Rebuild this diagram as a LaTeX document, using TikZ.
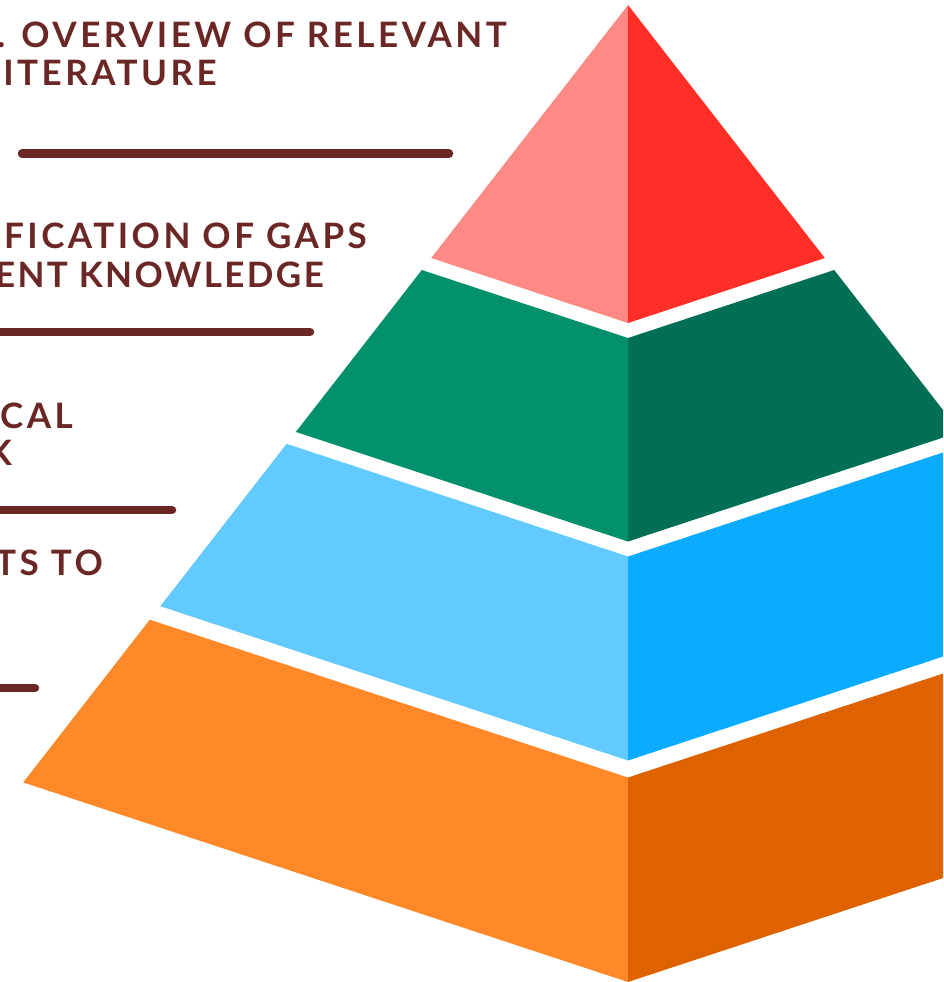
\documentclass[tikz,border=0pt]{standalone}
\usepackage{fontspec}
\newfontfamily\labelfont[LetterSpace=10]{Lato Bold}
\newfontfamily\labelfontnarrow[LetterSpace=6.8]{Lato Bold}
\definecolor{txt}{HTML}{6B2626}
\definecolor{redL}{HTML}{FF8A85}
\definecolor{redR}{HTML}{FF2E26}
\definecolor{greenL}{HTML}{02916A}
\definecolor{greenR}{HTML}{006F54}
\definecolor{blueL}{HTML}{62CAFF}
\definecolor{blueR}{HTML}{0BACFF}
\definecolor{orangeL}{HTML}{FF8829}
\definecolor{orangeR}{HTML}{DE6200}
\tikzset{
  lbl/.style={anchor=base east, inner sep=0pt, text=txt, font=\labelfont\fontsize{35}{35}\selectfont},
  lblnarrow/.style={lbl, font=\labelfontnarrow\fontsize{35}{35}\selectfont},
  rule/.style={draw=txt, line width=8.5pt, line cap=round}
}
\begin{document}
\begin{tikzpicture}[x=1pt,y=-1pt]
\useasboundingbox (0,0) rectangle (943,982);
\clip (0,0) rectangle (943,982);
\fill[white] (0,0) rectangle (943,982);
% red top
\fill[redL] (628,5) -- (431.2,258) -- (628,323) -- cycle;
\fill[redR] (628,5) -- (628,323) -- (824.8,258) -- cycle;
% green
\fill[greenL] (421.8,270) -- (628,338) -- (628,541.5) -- (295.9,431.9) -- cycle;
\fill[greenR] (628,338) -- (834.2,270) -- (960.1,431.9) -- (628,541.5) -- cycle;
% blue
\fill[blueL] (286.6,443.8) -- (628,556.5) -- (628,760.5) -- (160.3,606.2) -- cycle;
\fill[blueR] (628,556.5) -- (969.4,443.8) -- (1095.7,606.2) -- (628,760.5) -- cycle;
% orange
\fill[orangeL] (149.8,619.7) -- (628,777.5) -- (628,982) -- (23.2,782.4) -- cycle;
\fill[orangeR] (628,777.5) -- (1106.2,619.7) -- (1232.8,782.4) -- (628,982) -- cycle;
% labels
\node[lbl] (t1a) at (507,47.5) {. OVERVIEW OF RELEVANT};
\node[lbl] (t1b) at (217,85) {ITERATURE};
\node[lbl] (t2a) at (367,248) {FICATION OF GAPS};
\node[lblnarrow] (t2b) at (324,287) {ENT KNOWLEDGE};
\node[lbl] (t3a) at (73,428) {CAL};
\node[lbl] (t3b) at (12,465) {K};
\node[lbl] (t4a) at (103,575) {TS TO};
% rules
\coordinate (r1a) at (22,153.5); \coordinate (r1b) at (449,153.5);
\coordinate (r2a) at (-10,332); \coordinate (r2b) at (310,332);
\coordinate (r3a) at (-10,510); \coordinate (r3b) at (172,510);
\coordinate (r4a) at (-10,688); \coordinate (r4b) at (35,688);
\draw[rule] (r1a) -- (r1b);
\draw[rule] (r2a) -- (r2b);
\draw[rule] (r3a) -- (r3b);
\draw[rule] (r4a) -- (r4b);
\end{tikzpicture}
\end{document}
